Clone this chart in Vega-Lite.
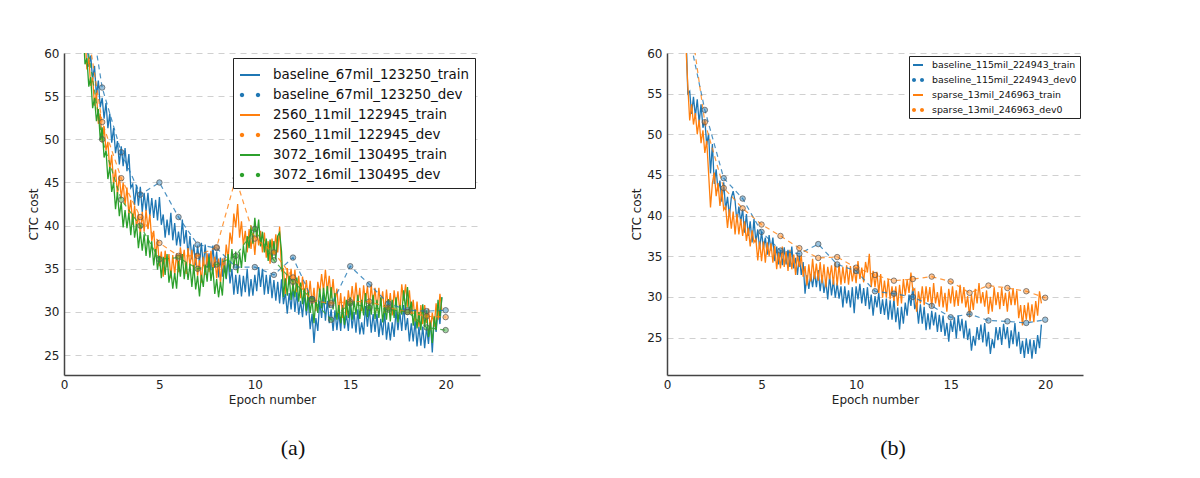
{
"$schema": "https://vega.github.io/schema/vega-lite/v6.json",
"background": "white",
"padding": {"left": 27, "top": 47, "right": 5, "bottom": 5},
"config": {
 "font": "DejaVu Sans",
 "view": {"stroke": null},
 "axis": {"labelFont": "DejaVu Sans", "labelFontSize": 12, "labelColor": "#222", "titleFont": "DejaVu Sans", "titleFontSize": 12, "titleFontWeight": "normal", "titleColor": "#222", "domainColor": "#444", "domainWidth": 1.5, "ticks": false, "grid": false, "labelFlush": false},
 "axisY": {"grid": true, "gridDash": [6, 5], "gridColor": "#d0d0d0", "gridWidth": 1, "labelPadding": 5, "titlePadding": 3},
 "axisX": {"labelPadding": 4, "titlePadding": 4}
},
"datasets": {
 "trainA": [
{"x":1.0,"b":65.3,"o":61.8,"g":63.0},{"x":1.1,"b":61.4,"o":62.2,"g":58.7},{"x":1.2,"b":61.8,"o":58.1,"g":59.4},{"x":1.3,"b":58.4,"o":59.5,"g":56.1},{"x":1.4,"b":59.7,"o":56.2,"g":57.2},{"x":1.5,"b":56.9,"o":57.2,"g":53.6},{"x":1.6,"b":58.5,"o":53.9,"g":54.8},{"x":1.7,"b":55.0,"o":55.4,"g":52.1},{"x":1.8,"b":56.8,"o":51.8,"g":53.5},{"x":1.9,"b":53.7,"o":53.0,"g":49.9},
{"x":2.0,"b":54.8,"o":49.6,"g":51.4},{"x":2.1,"b":52.4,"o":51.5,"g":47.9},{"x":2.2,"b":54.2,"o":48.7,"g":48.7},{"x":2.3,"b":51.3,"o":49.7,"g":45.4},{"x":2.4,"b":53.0,"o":46.4,"g":46.8},{"x":2.5,"b":49.6,"o":48.2,"g":43.9},{"x":2.6,"b":51.3,"o":44.8,"g":45.0},{"x":2.7,"b":48.4,"o":46.5,"g":41.9},{"x":2.8,"b":49.8,"o":43.6,"g":43.9},{"x":2.9,"b":47.1,"o":45.8,"g":41.1},
{"x":3.0,"b":49.2,"o":43.2,"g":42.7},{"x":3.1,"b":46.9,"o":45.0,"g":39.8},{"x":3.2,"b":49.0,"o":42.4,"g":41.8},{"x":3.3,"b":46.3,"o":44.4,"g":39.7},{"x":3.4,"b":48.3,"o":41.3,"g":41.5},{"x":3.5,"b":44.4,"o":43.0,"g":38.9},{"x":3.6,"b":44.8,"o":40.1,"g":41.4},{"x":3.7,"b":42.4,"o":42.3,"g":38.6},{"x":3.8,"b":44.7,"o":39.7,"g":40.2},{"x":3.9,"b":42.3,"o":41.4,"g":37.4},
{"x":4.0,"b":44.5,"o":38.9,"g":39.3},{"x":4.1,"b":41.6,"o":41.6,"g":37.1},{"x":4.2,"b":43.8,"o":39.3,"g":39.0},{"x":4.3,"b":41.7,"o":41.8,"g":36.5},{"x":4.4,"b":43.8,"o":39.6,"g":38.9},{"x":4.5,"b":41.1,"o":41.3,"g":36.3},{"x":4.6,"b":43.2,"o":38.2,"g":38.2},{"x":4.7,"b":40.9,"o":39.4,"g":35.4},{"x":4.8,"b":43.0,"o":36.4,"g":37.3},{"x":4.9,"b":40.6,"o":38.4,"g":34.9},
{"x":5.0,"b":43.3,"o":35.3,"g":36.5},{"x":5.1,"b":40.1,"o":37.0,"g":33.9},{"x":5.2,"b":41.3,"o":34.1,"g":36.4},{"x":5.3,"b":38.6,"o":37.1,"g":34.3},{"x":5.4,"b":40.7,"o":35.2,"g":36.7},{"x":5.5,"b":38.9,"o":36.7,"g":33.4},{"x":5.6,"b":41.5,"o":33.9,"g":34.8},{"x":5.7,"b":38.3,"o":36.6,"g":32.7},{"x":5.8,"b":40.3,"o":34.3,"g":34.5},{"x":5.9,"b":37.7,"o":36.8,"g":32.7},
{"x":6.0,"b":39.3,"o":34.6,"g":35.9},{"x":6.1,"b":37.6,"o":37.5,"g":34.1},{"x":6.2,"b":40.7,"o":35.7,"g":36.7},{"x":6.3,"b":37.9,"o":37.2,"g":33.8},{"x":6.4,"b":39.5,"o":34.4,"g":35.8},{"x":6.5,"b":36.6,"o":37.4,"g":33.7},{"x":6.6,"b":38.8,"o":35.3,"g":35.5},{"x":6.7,"b":36.1,"o":37.2,"g":32.9},{"x":6.8,"b":37.8,"o":34.6,"g":35.4},{"x":6.9,"b":35.4,"o":36.8,"g":32.6},
{"x":7.0,"b":37.7,"o":34.2,"g":34.2},{"x":7.1,"b":35.6,"o":36.0,"g":31.8},{"x":7.2,"b":38.0,"o":33.4,"g":34.3},{"x":7.3,"b":35.3,"o":36.4,"g":32.9},{"x":7.4,"b":37.8,"o":34.3,"g":35.5},{"x":7.5,"b":35.1,"o":36.8,"g":33.5},{"x":7.6,"b":36.8,"o":34.6,"g":36.4},{"x":7.7,"b":34.8,"o":37.1,"g":33.6},{"x":7.8,"b":37.7,"o":34.7,"g":35.2},{"x":7.9,"b":35.1,"o":36.4,"g":32.1},
{"x":8.0,"b":37.0,"o":33.9,"g":33.8},{"x":8.1,"b":34.0,"o":36.2,"g":31.7},{"x":8.2,"b":36.3,"o":33.3,"g":33.5},{"x":8.3,"b":34.1,"o":36.2,"g":31.9},{"x":8.4,"b":36.3,"o":34.6,"g":35.4},{"x":8.5,"b":33.8,"o":37.8,"g":33.9},{"x":8.6,"b":36.2,"o":36.2,"g":36.7},{"x":8.7,"b":33.3,"o":39.2,"g":34.6},{"x":8.8,"b":35.0,"o":37.9,"g":37.3},{"x":8.9,"b":32.0,"o":41.4,"g":35.1},
{"x":9.0,"b":34.3,"o":39.8,"g":37.0},{"x":9.1,"b":32.1,"o":42.5,"g":34.5},{"x":9.2,"b":34.3,"o":38.6,"g":36.9},{"x":9.3,"b":31.8,"o":40.5,"g":35.1},{"x":9.4,"b":34.2,"o":37.7,"g":37.7},{"x":9.5,"b":32.3,"o":39.4,"g":35.8},{"x":9.6,"b":35.0,"o":36.9,"g":38.8},{"x":9.7,"b":31.8,"o":39.6,"g":37.4},{"x":9.8,"b":33.8,"o":37.3,"g":40.0},{"x":9.9,"b":31.9,"o":39.2,"g":37.9},
{"x":10.0,"b":34.3,"o":36.6,"g":40.9},{"x":10.1,"b":32.4,"o":39.5,"g":38.6},{"x":10.2,"b":35.2,"o":37.7,"g":40.7},{"x":10.3,"b":32.9,"o":39.4,"g":37.6},{"x":10.4,"b":35.0,"o":36.9,"g":39.3},{"x":10.5,"b":32.0,"o":39.2,"g":36.9},{"x":10.6,"b":34.3,"o":36.3,"g":38.5},{"x":10.7,"b":32.1,"o":38.2,"g":35.9},{"x":10.8,"b":34.3,"o":35.6,"g":38.4},{"x":10.9,"b":31.6,"o":38.5,"g":36.1},
{"x":11.0,"b":33.7,"o":36.7,"g":38.2},{"x":11.1,"b":31.3,"o":39.0,"g":36.1},{"x":11.2,"b":33.5,"o":36.9,"g":38.8},{"x":11.3,"b":31.0,"o":39.9,"g":39.2},{"x":11.4,"b":33.8,"o":34.8,"g":37.0},{"x":11.5,"b":30.9,"o":35.0,"g":31.7},{"x":11.6,"b":32.3,"o":32.1,"g":33.9},{"x":11.7,"b":29.8,"o":35.1,"g":31.9},{"x":11.8,"b":32.2,"o":33.2,"g":34.2},{"x":11.9,"b":30.3,"o":35.0,"g":31.4},
{"x":12.0,"b":33.0,"o":32.4,"g":33.3},{"x":12.1,"b":30.0,"o":34.9,"g":31.7},{"x":12.2,"b":32.3,"o":32.3,"g":34.0},{"x":12.3,"b":29.7,"o":34.2,"g":31.2},{"x":12.4,"b":31.3,"o":31.6,"g":33.4},{"x":12.5,"b":29.4,"o":34.1,"g":30.9},{"x":12.6,"b":32.2,"o":31.7,"g":32.7},{"x":12.7,"b":29.6,"o":33.7,"g":30.1},{"x":12.8,"b":31.5,"o":31.4,"g":32.3},{"x":12.9,"b":28.0,"o":33.6,"g":29.9},
{"x":13.0,"b":29.8,"o":30.8,"g":31.5},{"x":13.1,"b":26.4,"o":32.8,"g":28.7},{"x":13.2,"b":29.3,"o":30.1,"g":31.4},{"x":13.3,"b":27.8,"o":33.5,"g":29.9},{"x":13.4,"b":31.2,"o":32.2,"g":32.7},{"x":13.5,"b":29.3,"o":34.4,"g":30.4},{"x":13.6,"b":32.0,"o":32.4,"g":32.8},{"x":13.7,"b":29.0,"o":34.9,"g":30.9},{"x":13.8,"b":31.3,"o":32.3,"g":33.0},{"x":13.9,"b":28.7,"o":34.2,"g":30.5},
{"x":14.0,"b":30.3,"o":31.6,"g":32.9},{"x":14.1,"b":27.8,"o":33.8,"g":30.3},{"x":14.2,"b":30.2,"o":31.2,"g":32.2},{"x":14.3,"b":27.9,"o":32.7,"g":29.1},{"x":14.4,"b":30.0,"o":29.9,"g":30.8},{"x":14.5,"b":27.8,"o":32.2,"g":28.7},{"x":14.6,"b":30.8,"o":29.3,"g":30.5},{"x":14.7,"b":28.1,"o":31.8,"g":28.5},{"x":14.8,"b":29.8,"o":29.6,"g":31.4},{"x":14.9,"b":27.8,"o":32.5,"g":29.3},
{"x":15.0,"b":30.7,"o":30.7,"g":31.7},{"x":15.1,"b":28.1,"o":33.0,"g":29.1},{"x":15.2,"b":30.0,"o":30.9,"g":31.3},{"x":15.3,"b":27.6,"o":33.4,"g":29.7},{"x":15.4,"b":30.3,"o":30.8,"g":32.0},{"x":15.5,"b":27.4,"o":32.8,"g":29.2},{"x":15.6,"b":28.8,"o":30.1,"g":31.4},{"x":15.7,"b":27.4,"o":33.1,"g":29.6},{"x":15.8,"b":30.7,"o":31.2,"g":32.2},{"x":15.9,"b":28.3,"o":33.0,"g":29.4},
{"x":16.0,"b":30.5,"o":30.4,"g":31.3},{"x":16.1,"b":27.6,"o":33.2,"g":29.7},{"x":16.2,"b":29.8,"o":30.8,"g":32.0},{"x":16.3,"b":27.7,"o":32.8,"g":29.2},{"x":16.4,"b":29.8,"o":30.1,"g":31.4},{"x":16.5,"b":27.1,"o":32.8,"g":29.3},{"x":16.6,"b":29.2,"o":30.7,"g":31.7},{"x":16.7,"b":27.3,"o":32.4,"g":28.8},{"x":16.8,"b":30.0,"o":29.9,"g":30.8},{"x":16.9,"b":26.8,"o":32.6,"g":29.1},
{"x":17.0,"b":28.8,"o":30.3,"g":31.5},{"x":17.1,"b":26.7,"o":32.2,"g":28.9},{"x":17.2,"b":28.8,"o":29.6,"g":31.4},{"x":17.3,"b":27.1,"o":32.5,"g":29.3},{"x":17.4,"b":30.2,"o":30.7,"g":31.7},{"x":17.5,"b":27.9,"o":32.4,"g":28.8},{"x":17.6,"b":30.0,"o":29.9,"g":30.8},{"x":17.7,"b":27.8,"o":33.2,"g":29.7},{"x":17.8,"b":30.8,"o":31.3,"g":32.5},{"x":17.9,"b":27.9,"o":33.2,"g":30.2},
{"x":18.0,"b":29.3,"o":30.6,"g":32.9},{"x":18.1,"b":26.6,"o":32.5,"g":29.9},{"x":18.2,"b":28.7,"o":29.7,"g":31.2},{"x":18.3,"b":26.6,"o":31.4,"g":28.4},{"x":18.4,"b":29.0,"o":28.9,"g":30.3},{"x":18.5,"b":26.0,"o":31.2,"g":28.1},{"x":18.6,"b":28.3,"o":28.3,"g":30.0},{"x":18.7,"b":26.1,"o":30.8,"g":27.9},{"x":18.8,"b":28.3,"o":28.6,"g":30.9},{"x":18.9,"b":25.8,"o":30.8,"g":28.3},
{"x":19.0,"b":28.2,"o":28.7,"g":30.2},{"x":19.1,"b":26.3,"o":30.4,"g":27.1},{"x":19.2,"b":29.0,"o":27.9,"g":28.8},{"x":19.3,"b":25.3,"o":29.9,"g":26.4},{"x":19.4,"b":29.3,"o":28.3,"g":29.5},{"x":19.5,"b":27.7,"o":31.0,"g":27.9},{"x":19.6,"b":30.3,"o":29.1,"g":31.4},{"x":19.7,"b":28.6,"o":32.1,"g":29.3},{"x":19.8,"b":31.7,"o":30.2,"g":31.7}
 ],
 "devA": [
{"x":1,"bd":70,"od":66,"gd":64},{"x":2,"bd":56,"od":52,"gd":50},{"x":3,"bd":48.5,"od":45.5,"gd":43},{"x":4,"bd":43.6,"od":41,"gd":40},{"x":5,"bd":45.0,"od":38,"gd":36.1},
{"x":6,"bd":41,"od":36.5,"gd":36.3},{"x":7,"bd":37.8,"od":36.5,"gd":35},{"x":8,"bd":37.4,"od":37.5,"gd":35.5},{"x":9,"bd":35.2,"od":45.5,"gd":36.5},{"x":10,"bd":35.2,"od":38.5,"gd":39.6},
{"x":11,"bd":34.3,"od":36.9,"gd":36},{"x":12,"bd":36.3,"od":34,"gd":33.5},{"x":13,"bd":31.5,"od":31.3,"gd":31.5},{"x":14,"bd":30.8,"od":31,"gd":29.1},{"x":15,"bd":35.3,"od":31.2,"gd":31},
{"x":16,"bd":33.2,"od":31.2,"gd":30.5},{"x":17,"bd":31,"od":30.5,"gd":30.3},{"x":18,"bd":30.2,"od":30,"gd":30},{"x":19,"bd":30.1,"od":29.5,"gd":28.2},{"x":20,"bd":30.2,"od":29.4,"gd":27.9}
 ],
 "trainB": [
{"x":1.0,"b":63.2,"s":60.9},{"x":1.1,"b":55.0,"s":56.0},{"x":1.2,"b":55.3,"s":51.7},{"x":1.3,"b":52.5,"s":53.7},{"x":1.4,"b":54.6,"s":51.2},{"x":1.5,"b":52.2,"s":52.6},{"x":1.6,"b":54.3,"s":50.0},{"x":1.7,"b":51.4,"s":51.8},{"x":1.8,"b":53.7,"s":48.9},{"x":1.9,"b":50.8,"s":50.5},
{"x":2.0,"b":51.8,"s":47.7},{"x":2.1,"b":48.7,"s":49.2},{"x":2.2,"b":50.1,"s":45.2},{"x":2.3,"b":45.2,"s":41.0},{"x":2.4,"b":48.8,"s":44.0},{"x":2.5,"b":43.9,"s":45.3},{"x":2.6,"b":45.7,"s":42.4},{"x":2.7,"b":43.0,"s":44.0},{"x":2.8,"b":44.3,"s":41.2},{"x":2.9,"b":41.7,"s":43.2},
{"x":3.0,"b":44.1,"s":40.7},{"x":3.1,"b":40.7,"s":41.1},{"x":3.2,"b":42.3,"s":38.5},{"x":3.3,"b":39.9,"s":40.8},{"x":3.4,"b":42.2,"s":38.4},{"x":3.5,"b":43.0,"s":40.5},{"x":3.6,"b":41.8,"s":37.7},{"x":3.7,"b":39.2,"s":40.2},{"x":3.8,"b":41.1,"s":37.7},{"x":3.9,"b":39.2,"s":39.6},
{"x":4.0,"b":40.8,"s":37.5},{"x":4.1,"b":37.9,"s":39.3},{"x":4.2,"b":40.2,"s":36.9},{"x":4.3,"b":37.5,"s":38.5},{"x":4.4,"b":39.3,"s":36.2},{"x":4.5,"b":36.7,"s":38.2},{"x":4.6,"b":39.6,"s":36.7},{"x":4.7,"b":36.7,"s":37.1},{"x":4.8,"b":38.3,"s":34.5},{"x":4.9,"b":35.9,"s":36.8},
{"x":5.0,"b":38.0,"s":34.4},{"x":5.1,"b":36.0,"s":36.8},{"x":5.2,"b":37.3,"s":34.2},{"x":5.3,"b":35.2,"s":36.7},{"x":5.4,"b":37.6,"s":35.0},{"x":5.5,"b":35.7,"s":36.6},{"x":5.6,"b":37.3,"s":34.2},{"x":5.7,"b":34.4,"s":36.3},{"x":5.8,"b":36.2,"s":33.4},{"x":5.9,"b":34.0,"s":35.5},
{"x":6.0,"b":35.8,"s":33.5},{"x":6.1,"b":33.9,"s":36.2},{"x":6.2,"b":36.1,"s":33.7},{"x":6.3,"b":34.0,"s":35.6},{"x":6.4,"b":35.8,"s":33.2},{"x":6.5,"b":33.7,"s":35.8},{"x":6.6,"b":36.2,"s":33.4},{"x":6.7,"b":33.5,"s":35.2},{"x":6.8,"b":34.8,"s":32.7},{"x":6.9,"b":32.7,"s":35.2},
{"x":7.0,"b":35.1,"s":33.7},{"x":7.1,"b":32.7,"s":35.1},{"x":7.2,"b":34.3,"s":32.5},{"x":7.3,"b":30.4,"s":33.8},{"x":7.4,"b":32.7,"s":31.4},{"x":7.5,"b":31.0,"s":34.0},{"x":7.6,"b":32.8,"s":31.9},{"x":7.7,"b":31.2,"s":34.7},{"x":7.8,"b":33.1,"s":32.2},{"x":7.9,"b":31.2,"s":34.1},
{"x":8.0,"b":33.3,"s":32.0},{"x":8.1,"b":30.7,"s":34.3},{"x":8.2,"b":32.7,"s":31.7},{"x":8.3,"b":30.5,"s":34.0},{"x":8.4,"b":32.0,"s":31.2},{"x":8.5,"b":29.7,"s":33.7},{"x":8.6,"b":32.6,"s":32.2},{"x":8.7,"b":30.2,"s":33.9},{"x":8.8,"b":32.1,"s":31.5},{"x":8.9,"b":29.9,"s":34.3},
{"x":9.0,"b":31.7,"s":31.4},{"x":9.1,"b":29.8,"s":34.0},{"x":9.2,"b":31.3,"s":31.5},{"x":9.3,"b":28.7,"s":33.7},{"x":9.4,"b":31.3,"s":31.7},{"x":9.5,"b":29.2,"s":33.9},{"x":9.6,"b":30.8,"s":31.5},{"x":9.7,"b":28.7,"s":33.8},{"x":9.8,"b":31.2,"s":31.9},{"x":9.9,"b":28.0,"s":33.5},
{"x":10.0,"b":31.3,"s":31.7},{"x":10.1,"b":29.7,"s":34.4},{"x":10.2,"b":31.6,"s":32.2},{"x":10.3,"b":29.2,"s":33.6},{"x":10.4,"b":31.1,"s":31.8},{"x":10.5,"b":28.9,"s":34.3},{"x":10.6,"b":31.2,"s":33.0},{"x":10.7,"b":28.5,"s":35.3},{"x":10.8,"b":30.3,"s":31.2},{"x":10.9,"b":27.7,"s":33.2},
{"x":11.0,"b":30.1,"s":31.2},{"x":11.1,"b":28.7,"s":33.1},{"x":11.2,"b":30.5,"s":30.5},{"x":11.3,"b":27.9,"s":32.8},{"x":11.4,"b":29.7,"s":29.9},{"x":11.5,"b":27.8,"s":32.0},{"x":11.6,"b":29.8,"s":29.9},{"x":11.7,"b":27.2,"s":32.2},{"x":11.8,"b":29.6,"s":29.7},{"x":11.9,"b":27.2,"s":31.3},
{"x":12.0,"b":29.8,"s":29.5},{"x":12.1,"b":26.9,"s":31.3},{"x":12.2,"b":28.7,"s":28.9},{"x":12.3,"b":26.0,"s":31.5},{"x":12.4,"b":28.8,"s":29.2},{"x":12.5,"b":26.7,"s":32.2},{"x":12.6,"b":29.3,"s":30.2},{"x":12.7,"b":27.7,"s":32.1},{"x":12.8,"b":30.3,"s":30.5},{"x":12.9,"b":28.9,"s":33.0},
{"x":13.0,"b":31.2,"s":30.8},{"x":13.1,"b":28.5,"s":31.0},{"x":13.2,"b":29.3,"s":28.2},{"x":13.3,"b":26.7,"s":30.7},{"x":13.4,"b":29.1,"s":29.2},{"x":13.5,"b":26.7,"s":31.3},{"x":13.6,"b":28.8,"s":29.0},{"x":13.7,"b":25.9,"s":31.3},{"x":13.8,"b":28.0,"s":29.4},{"x":13.9,"b":26.0,"s":31.2},
{"x":14.0,"b":28.3,"s":28.7},{"x":14.1,"b":26.5,"s":31.7},{"x":14.2,"b":28.1,"s":29.2},{"x":14.3,"b":25.7,"s":30.6},{"x":14.4,"b":27.8,"s":28.8},{"x":14.5,"b":25.7,"s":31.3},{"x":14.6,"b":27.7,"s":28.7},{"x":14.7,"b":25.2,"s":30.5},{"x":14.8,"b":26.8,"s":28.2},{"x":14.9,"b":24.5,"s":31.0},
{"x":15.0,"b":27.1,"s":29.2},{"x":15.1,"b":25.7,"s":31.3},{"x":15.2,"b":27.5,"s":28.8},{"x":15.3,"b":24.9,"s":30.8},{"x":15.4,"b":27.7,"s":28.9},{"x":15.5,"b":25.8,"s":31.5},{"x":15.6,"b":27.3,"s":29.2},{"x":15.7,"b":24.9,"s":31.2},{"x":15.8,"b":27.1,"s":28.7},{"x":15.9,"b":24.7,"s":30.1},
{"x":16.0,"b":26.1,"s":27.5},{"x":16.1,"b":23.4,"s":30.3},{"x":16.2,"b":25.2,"s":28.4},{"x":16.3,"b":24.0,"s":31.0},{"x":16.4,"b":26.3,"s":29.2},{"x":16.5,"b":24.7,"s":31.7},{"x":16.6,"b":26.6,"s":29.2},{"x":16.7,"b":24.4,"s":30.6},{"x":16.8,"b":26.8,"s":28.8},{"x":16.9,"b":23.9,"s":30.8},
{"x":17.0,"b":25.7,"s":27.9},{"x":17.1,"b":23.0,"s":30.0},{"x":17.2,"b":24.8,"s":28.2},{"x":17.3,"b":23.7,"s":31.2},{"x":17.4,"b":26.3,"s":29.0},{"x":17.5,"b":24.7,"s":30.6},{"x":17.6,"b":26.3,"s":28.5},{"x":17.7,"b":24.1,"s":31.1},{"x":17.8,"b":26.7,"s":28.9},{"x":17.9,"b":24.8,"s":30.5},
{"x":18.0,"b":26.3,"s":28.2},{"x":18.1,"b":23.7,"s":30.7},{"x":18.2,"b":25.9,"s":29.0},{"x":18.3,"b":24.2,"s":31.1},{"x":18.4,"b":26.8,"s":29.0},{"x":18.5,"b":23.9,"s":30.8},{"x":18.6,"b":25.7,"s":27.4},{"x":18.7,"b":23.0,"s":29.0},{"x":18.8,"b":24.6,"s":26.5},{"x":18.9,"b":22.5,"s":29.0},
{"x":19.0,"b":24.9,"s":27.2},{"x":19.1,"b":23.0,"s":29.3},{"x":19.2,"b":24.8,"s":27.0},{"x":19.3,"b":22.4,"s":29.1},{"x":19.4,"b":24.7,"s":26.9},{"x":19.5,"b":23.0,"s":29.5},{"x":19.6,"b":25.3,"s":27.7},{"x":19.7,"b":23.7,"s":30.7},{"x":19.8,"b":26.6,"s":29.2}
 ],
 "devB": [
{"x":1,"bd":64,"sd":68},{"x":2,"bd":53,"sd":51.5},{"x":3,"bd":44.6,"sd":43.4},{"x":4,"bd":42.1,"sd":40.9},{"x":5,"bd":38.0,"sd":38.9},
{"x":6,"bd":35.7,"sd":37.5},{"x":7,"bd":35.3,"sd":36.0},{"x":8,"bd":36.5,"sd":34.8},{"x":9,"bd":34.0,"sd":34.9},{"x":10,"bd":33.2,"sd":33.6},
{"x":11,"bd":30.7,"sd":32.7},{"x":12,"bd":30.4,"sd":32.0},{"x":13,"bd":30.0,"sd":32.2},{"x":14,"bd":28.9,"sd":32.5},{"x":15,"bd":27.5,"sd":31.9},
{"x":16,"bd":27.9,"sd":30.5},{"x":17,"bd":27.1,"sd":31.4},{"x":18,"bd":27.0,"sd":31.1},{"x":19,"bd":26.8,"sd":30.7},{"x":20,"bd":27.2,"sd":29.9}
 ]
},
"spacing": 150,
"resolve": {"scale": {"color": "independent", "x": "independent", "y": "independent"}, "legend": {"color": "independent"}},
"hconcat": [
 {
  "width": 416, "height": 322,
  "title": {"text": "(a)", "orient": "bottom", "anchor": "middle", "font": "Liberation Serif", "fontSize": 22, "fontWeight": "normal", "color": "#111", "offset": 33, "dx": 21},
  "encoding": {
   "x": {"field": "x", "type": "quantitative", "scale": {"domain": [0, 21.8], "nice": false, "zero": false}, "axis": {"title": "Epoch number", "values": [0, 5, 10, 15, 20]}},
   "y": {"field": "cost", "type": "quantitative", "scale": {"domain": [22.7, 60], "nice": false, "zero": false}, "axis": {"title": "CTC cost", "values": [25, 30, 35, 40, 45, 50, 55, 60]}},
   "color": {"field": "series", "type": "nominal",
    "scale": {"domain": ["baseline_67mil_123250_train", "baseline_67mil_123250_dev", "2560_11mil_122945_train", "2560_11mil_122945_dev", "3072_16mil_130495_train", "3072_16mil_130495_dev"], "range": ["#1f77b4", "#1f77b4", "#ff7f0e", "#ff7f0e", "#2ca02c", "#2ca02c"]},
    "legend": {"title": null, "orient": "top-right", "offset": 5, "padding": 6, "strokeColor": "#222", "fillColor": "white", "labelFont": "DejaVu Sans", "labelFontSize": 13.4, "labelColor": "#111", "labelLimit": 400, "symbolSize": 400, "symbolStrokeWidth": 2, "rowPadding": 2, "labelOffset": 12, "symbolType": "stroke",
     "encode": {"symbols": {"update": {
      "shape": {"signal": "indexof(datum.label,'dev')>=0 ? 'M-0.68,0L-0.71,0.08L-0.8,0.12L-0.89,0.08L-0.92,0L-0.89,-0.08L-0.8,-0.12L-0.71,-0.08ZM0.92,0L0.89,0.08L0.8,0.12L0.71,0.08L0.68,0L0.71,-0.08L0.8,-0.12L0.89,-0.08Z' : 'stroke'"},
      "fill": {"signal": "indexof(datum.label,'dev')>=0 ? (indexof(datum.label,'baseline')>=0 ? '#8fb7d6' : indexof(datum.label,'3072')>=0 ? '#99cc99' : '#f7bf90') : 'transparent'"}
     }}}}
   }
  },
  "layer": [
   {"data": {"name": "trainA"},
    "transform": [{"fold": ["b", "o", "g"], "as": ["k", "cost"]}, {"lookup": "k", "from": {"data": {"values": [{"k": "b", "series": "baseline_67mil_123250_train"}, {"k": "o", "series": "2560_11mil_122945_train"}, {"k": "g", "series": "3072_16mil_130495_train"}]}, "key": "k", "fields": ["series"]}}],
    "mark": {"type": "line", "strokeWidth": 1.3, "clip": true}},
   {"data": {"name": "devA"},
    "transform": [{"fold": ["bd", "od", "gd"], "as": ["k", "cost"]}, {"lookup": "k", "from": {"data": {"values": [{"k": "bd", "series": "baseline_67mil_123250_dev"}, {"k": "od", "series": "2560_11mil_122945_dev"}, {"k": "gd", "series": "3072_16mil_130495_dev"}]}, "key": "k", "fields": ["series"]}}],
    "mark": {"type": "line", "strokeWidth": 1.2, "strokeDash": [5, 4], "strokeOpacity": 0.8, "clip": true}},
   {"data": {"name": "devA"},
    "transform": [{"fold": ["bd", "od", "gd"], "as": ["k", "cost"]}, {"lookup": "k", "from": {"data": {"values": [{"k": "bd", "series": "baseline_67mil_123250_dev"}, {"k": "od", "series": "2560_11mil_122945_dev"}, {"k": "gd", "series": "3072_16mil_130495_dev"}]}, "key": "k", "fields": ["series"]}}],
    "mark": {"type": "circle", "size": 30, "fillOpacity": 0.45, "stroke": "#555555", "strokeOpacity": 0.7, "strokeWidth": 1, "clip": true}}
  ]
 },
 {
  "width": 416, "height": 322,
  "title": {"text": "(b)", "orient": "bottom", "anchor": "middle", "font": "Liberation Serif", "fontSize": 22, "fontWeight": "normal", "color": "#111", "offset": 33, "dx": 18},
  "encoding": {
   "x": {"field": "x", "type": "quantitative", "scale": {"domain": [0, 22], "nice": false, "zero": false}, "axis": {"title": "Epoch number", "values": [0, 5, 10, 15, 20]}},
   "y": {"field": "cost", "type": "quantitative", "scale": {"domain": [20.4, 60], "nice": false, "zero": false}, "axis": {"title": "CTC cost", "values": [25, 30, 35, 40, 45, 50, 55, 60]}},
   "color": {"field": "series", "type": "nominal",
    "scale": {"domain": ["baseline_115mil_224943_train", "baseline_115mil_224943_dev0", "sparse_13mil_246963_train", "sparse_13mil_246963_dev0"], "range": ["#1f77b4", "#1f77b4", "#ff7f0e", "#ff7f0e"]},
    "legend": {"title": null, "orient": "top-right", "offset": 3, "padding": 3, "strokeColor": "#222", "fillColor": "white", "labelFont": "DejaVu Sans", "labelFontSize": 9.4, "labelColor": "#111", "labelLimit": 400, "symbolSize": 100, "symbolStrokeWidth": 2, "rowPadding": 4, "labelOffset": 8, "symbolType": "stroke",
     "encode": {"symbols": {"update": {
      "shape": {"signal": "indexof(datum.label,'dev')>=0 ? 'M-0.6,0L-0.66,0.14L-0.8,0.2L-0.94,0.14L-1.0,0L-0.94,-0.14L-0.8,-0.2L-0.66,-0.14ZM1.0,0L0.94,0.14L0.8,0.2L0.66,0.14L0.6,0L0.66,-0.14L0.8,-0.2L0.94,-0.14Z' : 'stroke'"},
      "fill": {"signal": "indexof(datum.label,'dev')>=0 ? (indexof(datum.label,'baseline')>=0 ? '#8fb7d6' : '#f7bf90') : 'transparent'"}
     }}}}
   }
  },
  "layer": [
   {"data": {"name": "trainB"},
    "transform": [{"fold": ["b", "s"], "as": ["k", "cost"]}, {"lookup": "k", "from": {"data": {"values": [{"k": "b", "series": "baseline_115mil_224943_train"}, {"k": "s", "series": "sparse_13mil_246963_train"}]}, "key": "k", "fields": ["series"]}}],
    "mark": {"type": "line", "strokeWidth": 1.3, "clip": true}},
   {"data": {"name": "devB"},
    "transform": [{"fold": ["bd", "sd"], "as": ["k", "cost"]}, {"lookup": "k", "from": {"data": {"values": [{"k": "bd", "series": "baseline_115mil_224943_dev0"}, {"k": "sd", "series": "sparse_13mil_246963_dev0"}]}, "key": "k", "fields": ["series"]}}],
    "mark": {"type": "line", "strokeWidth": 1.2, "strokeDash": [5, 4], "strokeOpacity": 0.8, "clip": true}},
   {"data": {"name": "devB"},
    "transform": [{"fold": ["bd", "sd"], "as": ["k", "cost"]}, {"lookup": "k", "from": {"data": {"values": [{"k": "bd", "series": "baseline_115mil_224943_dev0"}, {"k": "sd", "series": "sparse_13mil_246963_dev0"}]}, "key": "k", "fields": ["series"]}}],
    "mark": {"type": "circle", "size": 30, "fillOpacity": 0.45, "stroke": "#555555", "strokeOpacity": 0.7, "strokeWidth": 1, "clip": true}}
  ]
 }
]
}
